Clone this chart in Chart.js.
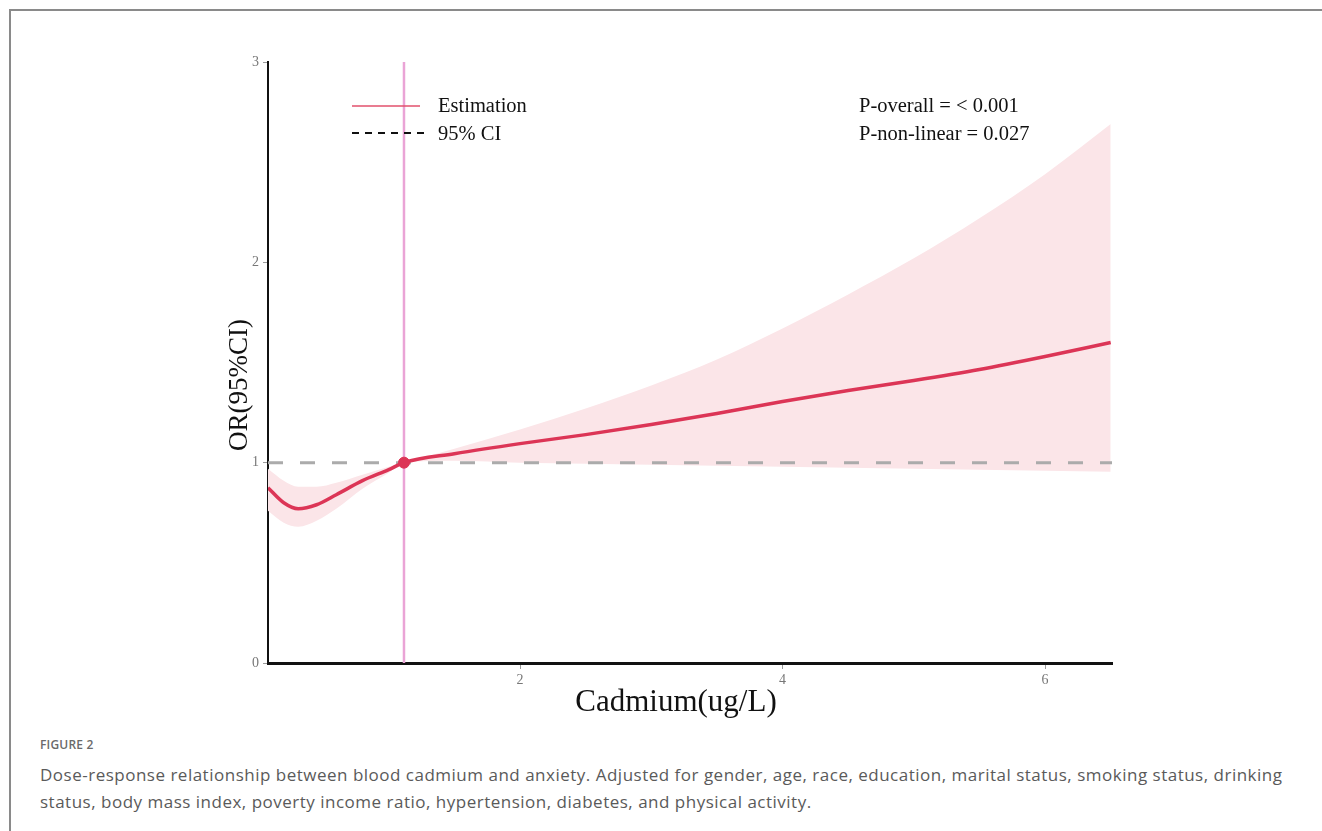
<!DOCTYPE html>
<html>
<head>
<meta charset="utf-8">
<script src="https://cdn.jsdelivr.net/npm/chart.js@4"></script>
<style>
	html, body { margin: 0; padding: 0; background: #fff; }
	body { width: 1322px; height: 831px; position: relative; overflow: hidden; }
	#frame { position: absolute; left: 9px; top: 9px; width: 1400px; height: 900px; border: 2px solid #8a8a8a; box-sizing: border-box; }
	#wrap { position: absolute; left: 0; top: 0; width: 1322px; height: 730px; }
	#cap { position: absolute; left: 40px; top: 736px; width: 1275px; font-family: "Open Sans", "Noto Sans", sans-serif; color: #5a5a5a; }
	#cap .fig { font-size: 12px; line-height: 17px; font-weight: 600; color: #6a6a6a; letter-spacing: 0.2px; margin-bottom: 8px; }
	#cap .txt { font-size: 17px; line-height: 27px; letter-spacing: 0.5px; white-space: nowrap; }
</style>
</head>
<body>
<div id="frame"></div>
<div id="wrap"><canvas id="rcsChart"></canvas></div>
<div id="cap">
	<div class="fig">FIGURE 2</div>
	<div class="txt">Dose-response relationship between blood cadmium and anxiety. Adjusted for gender, age, race, education, marital status, smoking status, drinking<br>status, body mass index, poverty income ratio, hypertension, diabetes, and physical activity.</div>
</div>
<script>
	// cadmium (ug/L) grid and OR estimates
	const cadmium = [0.08, 0.2, 0.31, 0.45, 0.6, 0.8, 1.0, 1.116, 1.5, 2.0, 2.5, 3.0, 3.5, 4.0, 4.5, 5.0, 5.5, 6.0, 6.5];
	const orEst   = [0.875, 0.80, 0.77, 0.79, 0.84, 0.91, 0.965, 1.0, 1.045, 1.095, 1.14, 1.19, 1.245, 1.305, 1.36, 1.41, 1.465, 1.53, 1.60];
	const ciUpper = [0.97, 0.91, 0.88, 0.88, 0.90, 0.94, 0.98, 1.0, 1.07, 1.165, 1.27, 1.385, 1.515, 1.67, 1.84, 2.02, 2.22, 2.44, 2.69];
	const ciLower = [0.76, 0.70, 0.68, 0.71, 0.77, 0.87, 0.95, 1.0, 1.01, 1.0, 0.995, 0.99, 0.985, 0.98, 0.975, 0.97, 0.965, 0.96, 0.955];
	const refX = 1.116;
	const refOR = 1;
	const xTicks = [2, 4, 6];
	const yTicks = [0, 1, 2, 3];
	const xMin = 0.08, xMax = 6.51;

	const pts = arr => arr.map((v, i) => ({ x: cadmium[i], y: v }));
	const serif = '"Liberation Serif", "Times New Roman", serif';

	const overlayText = {
		id: 'overlayText',
		afterDraw(chart) {
			const { ctx, chartArea: a } = chart;
			ctx.save();
			ctx.fillStyle = '#111';
			ctx.textBaseline = 'middle';
			// legend
			ctx.strokeStyle = '#e2506c';
			ctx.lineWidth = 1.6;
			ctx.beginPath(); ctx.moveTo(a.left + 84, 106); ctx.lineTo(a.left + 152, 106); ctx.stroke();
			ctx.strokeStyle = '#111';
			ctx.lineWidth = 2;
			ctx.setLineDash([7, 6]);
			ctx.beginPath(); ctx.moveTo(a.left + 84, 133); ctx.lineTo(a.left + 158, 133); ctx.stroke();
			ctx.setLineDash([]);
			ctx.font = '20.5px ' + serif;
			ctx.fillText('Estimation', a.left + 170, 107);
			ctx.fillText('95% CI', a.left + 170, 135);
			// p values
			ctx.fillText('P-overall = < 0.001', a.left + 591, 107);
			ctx.fillText('P-non-linear = 0.027', a.left + 591, 135);
			// axis titles
			ctx.textAlign = 'center';
			ctx.font = '31px ' + serif;
			ctx.fillText('Cadmium(ug/L)', a.left + 408, a.bottom + 40);
			ctx.translate(a.left - 28, a.top + 323);
			ctx.rotate(-Math.PI / 2);
			ctx.font = '27px ' + serif;
			ctx.fillText('OR(95%CI)', 0, 0);
			ctx.restore();
		}
	};

	new Chart(document.getElementById('rcsChart'), {
		type: 'line',
		data: {
			datasets: [{
				label: 'lower',
				data: pts(ciLower),
				borderWidth: 0,
				pointRadius: 0,
				fill: false,
				tension: 0.4,
				cubicInterpolationMode: 'monotone',
				order: 6
			}, {
				label: 'upper',
				data: pts(ciUpper),
				borderWidth: 0,
				pointRadius: 0,
				backgroundColor: '#fbe5e8',
				fill: '-1',
				tension: 0.4,
				cubicInterpolationMode: 'monotone',
				order: 5
			}, {
				label: 'ref',
				data: [{ x: xMin, y: refOR }, { x: xMax, y: refOR }],
				borderColor: '#ababab',
				borderWidth: 3,
				borderDash: [15, 17],
				pointRadius: 0,
				fill: false,
				order: 4
			}, {
				label: 'vline',
				data: [{ x: refX, y: 0 }, { x: refX, y: 3 }],
				borderColor: '#eaa4d6',
				borderWidth: 2.5,
				pointRadius: 0,
				fill: false,
				order: 3
			}, {
				label: 'Estimation',
				data: pts(orEst),
				borderColor: '#dc3556',
				borderWidth: 3.5,
				pointRadius: 0,
				fill: false,
				tension: 0.4,
				cubicInterpolationMode: 'monotone',
				order: 2
			}, {
				label: 'refPoint',
				data: [{ x: refX, y: refOR }],
				showLine: false,
				pointRadius: 5.5,
				pointBackgroundColor: '#dc3556',
				pointBorderColor: '#dc3556',
				order: 1
			}]
		},
		options: {
			responsive: true,
			maintainAspectRatio: false,
			animation: false,
			layout: { padding: { left: 208, right: 210, top: 62, bottom: 7 } },
			plugins: {
				legend: { display: false },
				tooltip: { enabled: false }
			},
			scales: {
				x: {
					type: 'linear',
					min: xMin,
					max: xMax,
					afterBuildTicks: s => { s.ticks = xTicks.map(v => ({ value: v })); },
					afterFit: s => { s.height = 60; },
					grid: { drawOnChartArea: false, drawTicks: true, tickLength: 6, color: '#9a9a9a', lineWidth: 1 },
					border: { display: true, color: '#111', width: 3 },
					ticks: { font: { family: serif, size: 14 }, color: '#777', padding: 3 }
				},
				y: {
					type: 'linear',
					min: 0,
					max: 3,
					afterBuildTicks: s => { s.ticks = yTicks.map(v => ({ value: v })); },
					afterFit: s => { s.width = 60; },
					grid: { drawOnChartArea: false, drawTicks: true, tickLength: 5, color: '#9a9a9a', lineWidth: 1 },
					border: { display: true, color: '#111', width: 2 },
					ticks: { font: { family: serif, size: 14 }, color: '#777', padding: 4 }
				}
			}
		},
		plugins: [overlayText]
	});
</script>
</body>
</html>
